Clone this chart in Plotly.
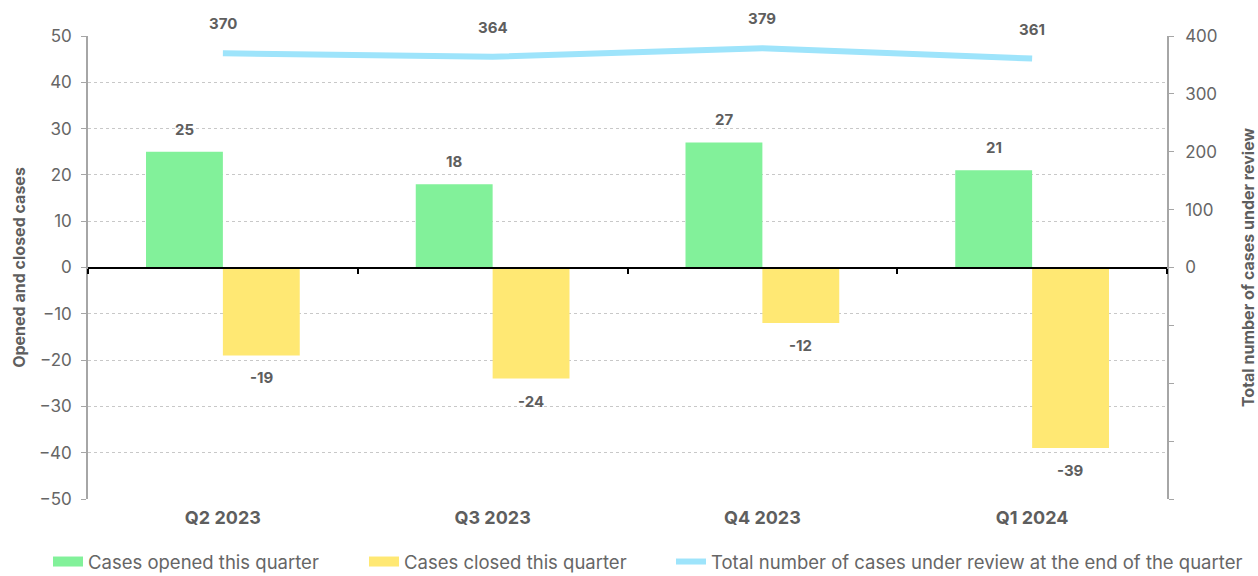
import plotly.graph_objects as go

quarters = ["Q2 2023", "Q3 2023", "Q4 2023", "Q1 2024"]
opened = [25, 18, 27, 21]
closed = [-19, -24, -12, -39]
total = [370, 364, 379, 361]

left_ticks = [-50, -40, -30, -20, -10, 0, 10, 20, 30, 40, 50]
right_ticks = [-400, -300, -200, -100, 0, 100, 200, 300, 400]
right_text = ["" if v < 0 else str(v) for v in right_ticks]

name_open = "Cases opened this quarter"
name_closed = "Cases closed this quarter"
name_total = "Total number of cases under review at the end of the quarter"

GREEN = "#82F19A"
YELLOW = "#FFE873"
BLUE = "#9EE4FB"
TXT = "#5E5E5E"
TICK = "#666666"
FONT = "Inter"

W, H = 1258, 576
ML, MR, MT, MB = 88, 91, 36, 77
BARGAP = 0.43
plot_w = W - ML - MR
plot_h = H - MT - MB


def px_x(p):
    return (p - ML) / plot_w


def px_y(p):
    return (H - MB - p) / plot_h


fig = go.Figure()
fig.add_trace(go.Bar(x=quarters, y=opened, name=name_open, showlegend=False,
                     marker=dict(color=GREEN, line=dict(width=0))))
fig.add_trace(go.Bar(x=quarters, y=closed, name=name_closed, showlegend=False,
                     marker=dict(color=YELLOW, line=dict(width=0))))
fig.add_trace(go.Scatter(x=quarters, y=total, yaxis="y2", mode="lines",
                         name=name_total, legend="legend3",
                         line=dict(color=BLUE, width=6)))
# legend entries for the bars (wide coloured swatches)
fig.add_trace(go.Scatter(x=[None], y=[None], mode="lines", name=name_open,
                         legend="legend", line=dict(color=GREEN, width=10)))
fig.add_trace(go.Scatter(x=[None], y=[None], mode="lines", name=name_closed,
                         legend="legend2", line=dict(color=YELLOW, width=10)))
# helper trace to display the zero-line axis with boundary ticks
idx = list(range(len(quarters)))
fig.add_trace(go.Scatter(x=idx, y=[0] * len(quarters), xaxis="x2", mode="lines",
                         line=dict(width=0), opacity=0, showlegend=False, hoverinfo="skip"))

cat_w = plot_w / len(quarters)
bar_w = (1 - BARGAP) * cat_w / 2
shift = bar_w / 2

lab_font = dict(family=FONT, size=15, color=TXT)
ann = []
for q, v in zip(quarters, opened):
    ann.append(dict(x=q, y=v, xref="x", yref="y", text=f"<b>{v}</b>", showarrow=False,
                    xshift=-shift, yanchor="bottom", yshift=11, font=lab_font))
for q, v in zip(quarters, closed):
    ann.append(dict(x=q, y=v, xref="x", yref="y", text=f"<b>{v}</b>", showarrow=False,
                    xshift=shift, yanchor="top", yshift=-11, font=lab_font))
for q, v in zip(quarters, total):
    ann.append(dict(x=q, y=v, xref="x", yref="y2", text=f"<b>{v}</b>", showarrow=False,
                    yanchor="bottom", yshift=18, font=lab_font))

leg_common = dict(orientation="h", xanchor="left", yanchor="middle", y=px_y(562),
                  font=dict(family=FONT, size=18.5, color=TICK), itemwidth=30,
                  bgcolor="rgba(0,0,0,0)", borderwidth=0)

boundaries = [i - 0.5 for i in range(len(quarters) + 1)]

fig.update_layout(
    width=W, height=H,
    margin=dict(l=ML, r=MR, t=MT, b=MB, autoexpand=False),
    paper_bgcolor="white", plot_bgcolor="white",
    barmode="group", bargap=BARGAP, bargroupgap=0,
    font=dict(family=FONT, color=TXT, size=16),
    annotations=ann,
    showlegend=True,
    legend=dict(x=px_x(48), **leg_common),
    legend2=dict(x=px_x(364), **leg_common),
    legend3=dict(x=px_x(671), **leg_common),
    xaxis=dict(type="category", showline=False, ticks="", showgrid=False,
               tickfont=dict(family=FONT, size=18, color=TXT),
               ticklabelstandoff=6, tickprefix="<b>", ticksuffix="</b>"),
    xaxis2=dict(type="linear", range=[-0.5, len(quarters) - 0.5], overlaying="x",
                anchor="free", position=0.5,
                showline=True, linecolor="black", linewidth=2, ticks="outside",
                tickvals=boundaries, ticklen=5, tickcolor="black", tickwidth=1.5,
                showticklabels=False, showgrid=False, zeroline=False),
    yaxis=dict(range=[-50, 50], tickvals=left_ticks, showgrid=True,
               gridcolor="#C8C8C8", griddash="dot", gridwidth=1,
               zeroline=False, showline=True, linecolor="#A6A6A6", linewidth=1.5,
               ticks="outside", ticklen=5, tickcolor="#A6A6A6", ticklabelstandoff=6,
               tickfont=dict(family=FONT, size=17, color=TICK),
               title=dict(text="<b>Opened and closed cases</b>", standoff=9,
                          font=dict(family=FONT, size=16, color=TXT))),
    yaxis2=dict(range=[-400, 400], overlaying="y", side="right", tickvals=right_ticks,
                ticktext=right_text, showgrid=False, zeroline=False, showline=True,
                linecolor="#A6A6A6", linewidth=1.5, ticks="outside", ticklen=5,
                tickcolor="#A6A6A6", ticklabelstandoff=8,
                tickfont=dict(family=FONT, size=17, color=TICK),
                title=dict(text="<b>Total number of cases under review</b>", standoff=28,
                           font=dict(family=FONT, size=16, color=TXT))),
)

fig.write_html("out.html")
